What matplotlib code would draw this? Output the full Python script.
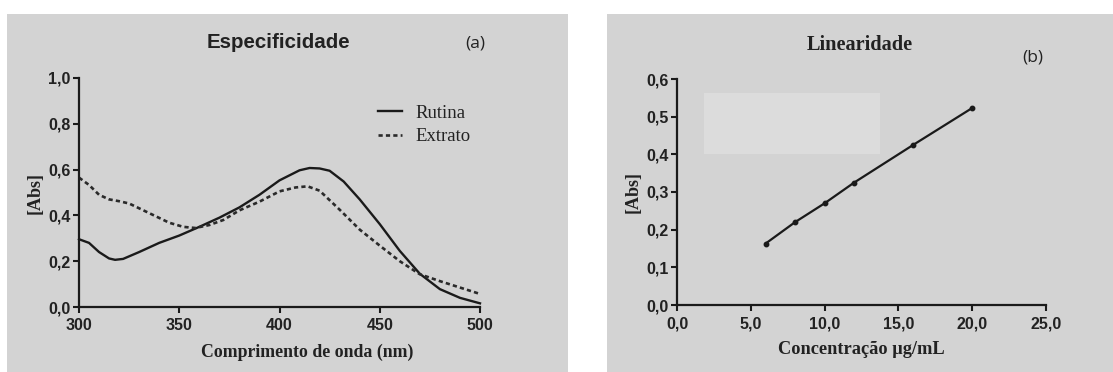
import matplotlib
matplotlib.use("Agg")
import matplotlib.pyplot as plt
from matplotlib.patches import Rectangle

# (a) spectra
wl_rutina = [300, 305, 310, 315, 318, 322, 330, 340, 350, 360, 370, 380, 390,
             400, 410, 415, 420, 425, 432, 440, 450, 460, 470, 480, 490, 500]
abs_rutina = [0.296, 0.280, 0.240, 0.212, 0.206, 0.210, 0.240, 0.280, 0.312,
              0.350, 0.390, 0.435, 0.490, 0.553, 0.597, 0.607, 0.605, 0.595,
              0.548, 0.470, 0.362, 0.245, 0.145, 0.078, 0.040, 0.016]
wl_extrato = [300, 305, 310, 315, 320, 325, 335, 345, 352, 358, 365, 372, 380,
              390, 400, 408, 414, 420, 430, 440, 450, 460, 470, 480, 490, 500]
abs_extrato = [0.565, 0.533, 0.490, 0.470, 0.462, 0.452, 0.410, 0.368, 0.350,
               0.345, 0.358, 0.380, 0.422, 0.460, 0.505, 0.522, 0.527, 0.508,
               0.425, 0.338, 0.268, 0.200, 0.143, 0.113, 0.085, 0.057]

# (b) calibration
conc = [6, 8, 10, 12, 16, 20]
abs_conc = [0.163, 0.220, 0.270, 0.325, 0.425, 0.523]

xticks_a = [300, 350, 400, 450, 500]
yticks_a = [0.0, 0.2, 0.4, 0.6, 0.8, 1.0]
xticks_b = [0, 5, 10, 15, 20, 25]
yticks_b = [0.0, 0.1, 0.2, 0.3, 0.4, 0.5, 0.6]

W, H = 1113, 372
fig = plt.figure(figsize=(W / 100, H / 100), dpi=100)
fig.patch.set_facecolor("white")

panel = "#d3d3d3"
fig.patches.append(Rectangle((7 / W, 0), 561 / W, 358 / H, transform=fig.transFigure,
                             facecolor=panel, edgecolor="none", zorder=-5))
fig.patches.append(Rectangle((607 / W, 0), 506 / W, 358 / H, transform=fig.transFigure,
                             facecolor=panel, edgecolor="none", zorder=-5))

sans = "Liberation Sans"
serif = "Liberation Serif"


def style(ax, xt, yt, xfmt, yfmt):
    ax.set_facecolor("none")
    ax.set_zorder(2)
    for s in ["top", "right"]:
        ax.spines[s].set_visible(False)
    for s in ["left", "bottom"]:
        ax.spines[s].set_linewidth(1.6)
        ax.spines[s].set_color("#1a1a1a")
    ax.set_xticks(xt)
    ax.set_yticks(yt)
    ax.set_xticklabels([xfmt(v) for v in xt])
    ax.set_yticklabels([yfmt(v) for v in yt])
    ax.tick_params(direction="out", length=4, width=1.5, color="#1a1a1a", pad=2)
    ax.tick_params(axis="x", pad=4)
    for lab in ax.get_xticklabels() + ax.get_yticklabels():
        lab.set_fontfamily(sans)
        lab.set_fontweight("bold")
        lab.set_fontsize(11.5)
        lab.set_color("#222222")


comma = lambda fmt: (lambda v: format(v, fmt).replace(".", ","))

# ---- panel (a)
ax1 = fig.add_axes([79 / W, (H - 307) / H, 401 / W, 229 / H])
ax1.plot(wl_rutina, abs_rutina, color="#1a1a1a", lw=1.7, label="Rutina", clip_on=False)
ax1.plot(wl_extrato, abs_extrato, color="#2a2a2a", lw=1.9, ls=(0, (1.6, 1.2)),
         label="Extrato", clip_on=False)
ax1.set_xlim(300, 500)
ax1.set_ylim(0, 1.0)
style(ax1, xticks_a, yticks_a, lambda v: f"{v:d}", comma(".1f"))
ax1.text(0.569, -0.197, "Comprimento de onda (nm)", transform=ax1.transAxes,
         ha="center", va="center", fontfamily=serif, fontweight="bold",
         fontsize=12.8, color="#222222")
ax1.text(-0.11, 0.5, "[Abs]", transform=ax1.transAxes, rotation=90,
         ha="center", va="center", fontfamily=serif, fontweight="bold",
         fontsize=13, color="#222222")
leg = ax1.legend(loc="upper left", bbox_to_anchor=(0.722, 0.925), frameon=False,
                 prop={"family": serif, "size": 13.5}, handlelength=1.3,
                 handletextpad=0.7, borderpad=0, labelspacing=0.35)
for t in leg.get_texts():
    t.set_color("#222222")
fig.text(278 / W, 1 - 43 / H, "Especificidade", ha="center", va="center",
         fontfamily=sans, fontweight="bold", fontsize=14.8, color="#222222")
fig.text(475 / W, 1 - 43 / H, "(a)", ha="center", va="center",
         fontfamily="Open Sans", fontsize=12.5, color="#222222")

# ---- panel (b)
ax2 = fig.add_axes([677 / W, (H - 305) / H, 369 / W, 226 / H])
ax2.add_patch(Rectangle((1.83, 0.40), 11.9, 0.163, facecolor="#dcdcdc",
                        edgecolor="none", zorder=0))
ax2.plot(conc, abs_conc, color="#1a1a1a", lw=1.6, marker="o", markersize=3.2)
ax2.set_xlim(0, 25)
ax2.set_ylim(0, 0.6)
style(ax2, xticks_b, yticks_b, comma(".1f"), comma(".1f"))
ax2.text(0.501, -0.199, "Concentração µg/mL", transform=ax2.transAxes,
         ha="center", va="center", fontfamily=serif, fontweight="bold",
         fontsize=13.2, color="#222222")
ax2.text(-0.119, 0.5, "[Abs]", transform=ax2.transAxes, rotation=90,
         ha="center", va="center", fontfamily=serif, fontweight="bold",
         fontsize=13, color="#222222")
fig.text(860 / W, 1 - 45 / H, "Linearidade", ha="center", va="center",
         fontfamily=serif, fontweight="bold", fontsize=14.6, color="#222222")
fig.text(1033 / W, 1 - 57 / H, "(b)", ha="center", va="center",
         fontfamily="Open Sans", fontsize=12.5, color="#222222")

fig.savefig("out.png", dpi=100)
